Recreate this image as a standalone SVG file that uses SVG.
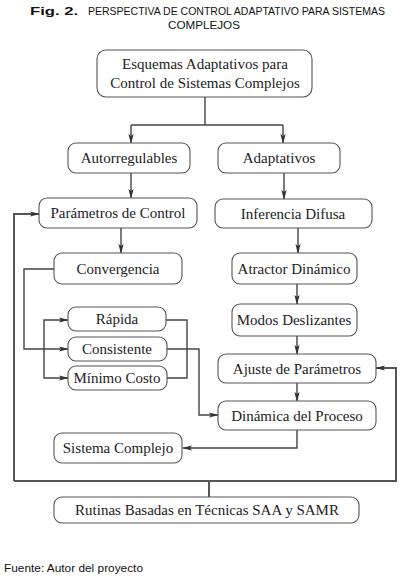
<svg xmlns="http://www.w3.org/2000/svg" width="404" height="577" viewBox="0 0 404 577">
<style>
.box{fill:#fff;stroke:#555;stroke-width:1.1}
.t{font-family:"Liberation Serif","Times New Roman",serif;font-size:15px;fill:#222;text-anchor:middle}
.c{fill:none;stroke:#444;stroke-width:1.4}
.f{fill:none;stroke:#555;stroke-width:2}
.cap{font-family:"Liberation Sans",Arial,sans-serif;font-size:11px;fill:#111}
</style>
<defs>
<marker id="a" markerWidth="10" markerHeight="6" refX="9" refY="3" orient="auto" markerUnits="userSpaceOnUse">
<path d="M0,0.4 L10,3 L0,5.6 L2,3 Z" fill="#333"/>
</marker>
</defs>
<text class="cap" x="30" y="15" font-weight="bold" font-size="12.5" textLength="48" lengthAdjust="spacingAndGlyphs">Fig. 2.</text>
<text class="cap" x="88" y="15" textLength="297" lengthAdjust="spacingAndGlyphs">PERSPECTIVA DE CONTROL ADAPTATIVO PARA SISTEMAS</text>
<text class="cap" x="168" y="29" textLength="72" lengthAdjust="spacingAndGlyphs">COMPLEJOS</text>

<g id="connectors">
<path class="c" d="M205,97 V125"/>
<path class="c" d="M131,125 H283"/>
<path class="c" d="M131,125 V143" marker-end="url(#a)"/>
<path class="c" d="M283,125 V143" marker-end="url(#a)"/>
<path class="c" d="M131,173 V198" marker-end="url(#a)"/>
<path class="c" d="M284,173 V199" marker-end="url(#a)"/>
<path class="c" d="M121,228 V253" marker-end="url(#a)"/>
<path class="c" d="M298,228 V253" marker-end="url(#a)"/>
<path class="c" d="M297,284 V304" marker-end="url(#a)"/>
<path class="c" d="M297,336 V354" marker-end="url(#a)"/>
<path class="c" d="M297,383 V401" marker-end="url(#a)"/>
<path class="c" d="M297,430 V448 H183" marker-end="url(#a)"/>
<path class="c" d="M54,269 H24 V349 H68" marker-end="url(#a)"/>
<path class="c" d="M166,320 H187 V378 H167"/>
<path class="c" d="M44,349 V320 H68" marker-end="url(#a)"/>
<path class="c" d="M44,349 V378 H68" marker-end="url(#a)"/>
<path class="c" d="M167,349 H199 V415 H218" marker-end="url(#a)"/>
<path class="f" d="M14,481 V214 H39" marker-end="url(#a)"/>
<path class="f" d="M14,481 H396 V368 H376" marker-end="url(#a)"/>
<path class="f" d="M209,481 V497"/>
</g>

<g id="n-top"><rect class="box" x="97" y="50" width="215" height="47" rx="9"/>
<text class="t" x="205" y="69">Esquemas Adaptativos para</text>
<text class="t" x="205" y="88">Control de Sistemas Complejos</text></g>
<g id="n-auto"><rect class="box" x="68" y="143" width="122" height="30" rx="8"/><text class="t" x="129" y="163">Autorregulables</text></g>
<g id="n-adapt"><rect class="box" x="218" y="143" width="122" height="30" rx="8"/><text class="t" x="279" y="163">Adaptativos</text></g>
<g id="n-param"><rect class="box" x="39" y="198" width="158" height="30" rx="8"/><text class="t" x="118" y="218">Parámetros de Control</text></g>
<g id="n-infer"><rect class="box" x="215" y="199" width="157" height="29" rx="8"/><text class="t" x="293" y="219">Inferencia Difusa</text></g>
<g id="n-conv"><rect class="box" x="54" y="253" width="128" height="31" rx="8"/><text class="t" x="118" y="274">Convergencia</text></g>
<g id="n-atr"><rect class="box" x="232" y="253" width="125" height="31" rx="8"/><text class="t" x="294" y="274">Atractor Dinámico</text></g>
<g id="n-modos"><rect class="box" x="232" y="304" width="125" height="32" rx="8"/><text class="t" x="294" y="325">Modos Deslizantes</text></g>
<g id="n-rap"><rect class="box" x="68" y="307" width="98" height="24" rx="8"/><text class="t" x="117" y="324">Rápida</text></g>
<g id="n-cons"><rect class="box" x="68" y="337" width="99" height="24" rx="8"/><text class="t" x="117" y="354">Consistente</text></g>
<g id="n-min"><rect class="box" x="68" y="366" width="99" height="24" rx="8"/><text class="t" x="117" y="383">Mínimo Costo</text></g>
<g id="n-ajuste"><rect class="box" x="218" y="354" width="158" height="29" rx="8"/><text class="t" x="297" y="374">Ajuste de Parámetros</text></g>
<g id="n-din"><rect class="box" x="218" y="401" width="158" height="29" rx="8"/><text class="t" x="297" y="421">Dinámica del Proceso</text></g>
<g id="n-sis"><rect class="box" x="54" y="433" width="128" height="30" rx="8"/><text class="t" x="118" y="453">Sistema Complejo</text></g>
<g id="n-rut"><rect class="box" x="54" y="497" width="305" height="26" rx="8"/><text class="t" x="207" y="515">Rutinas Basadas en Técnicas SAA y SAMR</text></g>

<text class="cap" x="4" y="572" font-size="12" textLength="139" lengthAdjust="spacingAndGlyphs">Fuente: Autor del proyecto</text>
</svg>
